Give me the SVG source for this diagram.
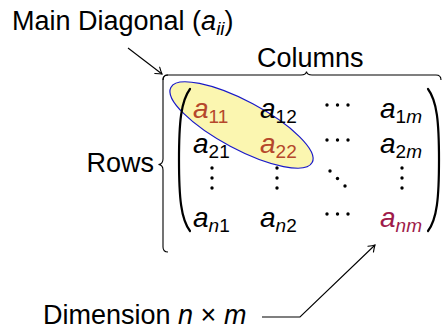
<svg xmlns="http://www.w3.org/2000/svg" width="448" height="331" viewBox="0 0 448 331">
<style>
  text { font-family: "Liberation Sans", Arial, sans-serif; fill: #000; }
  .lbl { font-size: 27px; }
  .m { font-size: 28px; }
  .it { font-style: italic; }
  .sub { font-size: 19px; }
  .red { fill: #b5472b; }
  .pur { fill: #9e1b4a; }
  .line { fill: none; stroke: #000; stroke-width: 1.1; }
  .paren { fill: none; stroke: #000; stroke-width: 2.2; stroke-linecap: round; }
</style>
<defs>
  <marker id="arr" viewBox="-7 -5 8 10" markerWidth="8" markerHeight="10" refX="0" refY="0" orient="auto" markerUnits="userSpaceOnUse">
    <path d="M -6 -4 Q -2 -1 0 0 Q -2 1 -6 4" fill="none" stroke="#000" stroke-width="1.1" stroke-linecap="round"/>
  </marker>
  <g id="dots3h">
    <circle cx="0" cy="0" r="1.7"/><circle cx="10.5" cy="0" r="1.7"/><circle cx="21" cy="0" r="1.7"/>
  </g>
  <g id="dots3v">
    <circle cx="0" cy="0" r="1.7"/><circle cx="0" cy="10" r="1.7"/><circle cx="0" cy="20" r="1.7"/>
  </g>
</defs>

<g id="diagonal-highlight">
  <ellipse cx="241.5" cy="125" rx="80" ry="24" transform="rotate(28 241.5 125)" fill="#fbf6b0" stroke="#1a1ac8" stroke-width="1.2"/>
</g>

<g id="braces">
  <path class="line" d="M 163 80 Q 163 75 168 75 L 301 75 Q 306 75 306.5 71.5 Q 307 75 312 75 L 436 75 Q 441 75 441 80"/>
  <path class="line" d="M 168 75 Q 163 75 163 80 L 163 159 Q 163 164 158.5 164.5 Q 163 165 163 170 L 163 247 Q 163 252 168 252"/>
</g>

<g id="matrix">
  <path class="paren" d="M 190 89 C 181 101 179 122 179 160 C 179 198 181 219 190 231"/>
  <path class="paren" d="M 428 89 C 437 101 439 122 439 160 C 439 198 437 219 428 231"/>
  <g id="row1">
    <text class="m" x="193" y="118"><tspan class="it red">a</tspan><tspan class="sub red" dy="5">11</tspan></text>
    <text class="m" x="260" y="118"><tspan class="it">a</tspan><tspan class="sub" dy="5">12</tspan></text>
    <use href="#dots3h" x="327" y="105"/>
    <text class="m" x="380" y="118"><tspan class="it">a</tspan><tspan class="sub" dy="5">1</tspan><tspan class="sub it">m</tspan></text>
  </g>
  <g id="row2">
    <text class="m" x="193" y="153"><tspan class="it">a</tspan><tspan class="sub" dy="5">21</tspan></text>
    <text class="m" x="260" y="153"><tspan class="it red">a</tspan><tspan class="sub red" dy="5">22</tspan></text>
    <use href="#dots3h" x="327" y="140"/>
    <text class="m" x="380" y="153"><tspan class="it">a</tspan><tspan class="sub" dy="5">2</tspan><tspan class="sub it">m</tspan></text>
  </g>
  <g id="row3">
    <use href="#dots3v" x="212" y="168"/>
    <use href="#dots3v" x="277" y="168"/>
    <circle cx="330" cy="171" r="1.7"/><circle cx="337.5" cy="178.5" r="1.7"/><circle cx="345" cy="186" r="1.7"/>
    <use href="#dots3v" x="402" y="168"/>
  </g>
  <g id="row4">
    <text class="m" x="193" y="227"><tspan class="it">a</tspan><tspan class="sub it" dy="5">n</tspan><tspan class="sub">1</tspan></text>
    <text class="m" x="260" y="227"><tspan class="it">a</tspan><tspan class="sub it" dy="5">n</tspan><tspan class="sub">2</tspan></text>
    <use href="#dots3h" x="327" y="214"/>
    <text class="m" x="380" y="227"><tspan class="it pur">a</tspan><tspan class="sub it pur" dy="5">nm</tspan></text>
  </g>
</g>

<g id="label-main-diagonal">
  <text class="lbl" x="12" y="30">Main Diagonal (<tspan class="it">a</tspan><tspan class="it" font-size="19" dy="5">ii</tspan><tspan dy="-5">)</tspan></text>
</g>
<g id="label-columns">
  <text class="lbl" x="257" y="67">Columns</text>
</g>
<g id="label-rows">
  <text class="lbl" x="154" y="172" text-anchor="end">Rows</text>
</g>
<g id="label-dimension">
  <text class="lbl" x="43" y="324">Dimension <tspan class="it">n</tspan> × <tspan class="it">m</tspan></text>
</g>

<g id="connectors">
  <path class="line" d="M 128 48 L 162 74" marker-end="url(#arr)"/>
  <path class="line" d="M 262 317 L 300 317 L 375 245" marker-end="url(#arr)"/>
</g>
</svg>
